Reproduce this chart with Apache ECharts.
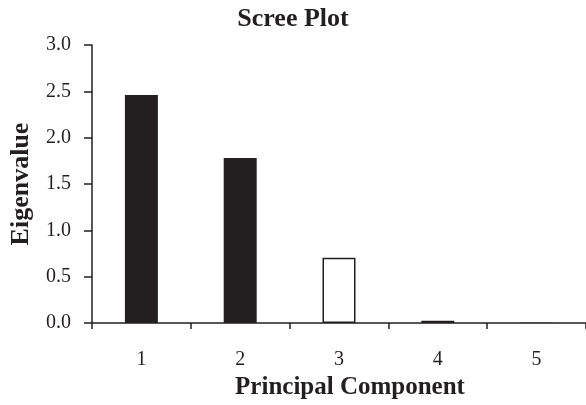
<!DOCTYPE html>
<html>
<head>
<meta charset="utf-8">
<script src="https://cdn.jsdelivr.net/npm/echarts@6/dist/echarts.min.js"></script>
<style>html,body{margin:0;padding:0;background:#fff}#c{width:586px;height:405px}</style>
</head>
<body>
<div id="c"></div>
<script>
var categories = ['1', '2', '3', '4', '5'];
var eigenvalues = [2.46, 1.78, 0.705, 0.025, 0.004];
var barFills = ['#231f20', '#231f20', '#ffffff', '#231f20', '#231f20'];
var yTicks = [0, 0.5, 1.0, 1.5, 2.0, 2.5, 3.0];

var font = '"Liberation Serif", "Times New Roman", serif';
var ink = '#231f20';
var chart = echarts.init(document.getElementById('c'), null, {renderer: 'canvas'});
chart.setOption({
  backgroundColor: '#ffffff',
  animation: false,
  title: {
    text: 'Scree Plot',
    left: 'center',
    top: 1,
    textStyle: {fontFamily: font, fontWeight: 'bold', fontSize: 26, color: ink}
  },
  grid: {left: 90, top: 45, width: 503, height: 278},
  xAxis: {
    type: 'category',
    data: categories,
    boundaryGap: true,
    name: 'Principal Component',
    nameLocation: 'middle',
    nameGap: 51,
    nameTextStyle: {fontFamily: font, fontWeight: 'bold', fontSize: 25, color: ink, padding: [0, 0, 0, 22]},
    axisLine: {lineStyle: {color: ink, width: 1.5}},
    axisTick: {show: true, length: 6, lineStyle: {color: ink, width: 1.5}},
    axisLabel: {fontFamily: font, fontSize: 20, color: ink, margin: 27},
    splitLine: {show: false}
  },
  yAxis: {
    type: 'value',
    min: 0,
    max: 3,
    interval: 0.5,
    name: 'Eigenvalue',
    nameLocation: 'middle',
    nameGap: 58,
    nameTextStyle: {fontFamily: font, fontWeight: 'bold', fontSize: 26, color: ink},
    axisLine: {show: true, lineStyle: {color: ink, width: 1.5}},
    axisTick: {show: true, length: 8, lineStyle: {color: ink, width: 1.5}},
    axisLabel: {fontFamily: font, fontSize: 20, color: ink, margin: 21,
      formatter: function (v) { return v.toFixed(1); }},
    splitLine: {show: false}
  },
  series: [{
    type: 'bar',
    barWidth: 33,
    data: eigenvalues.map(function (v, i) {
      return {value: v, itemStyle: {color: barFills[i], borderColor: ink, borderWidth: barFills[i] === '#ffffff' ? 1.5 : 0}};
    })
  }]
});
</script>
</body>
</html>
